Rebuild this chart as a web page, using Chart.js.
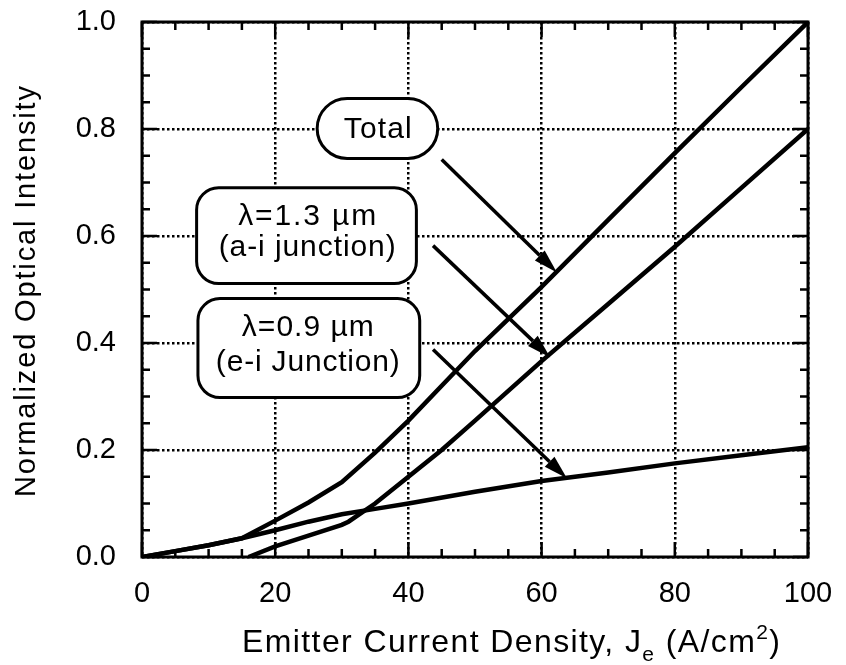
<!DOCTYPE html>
<html lang="en">
<head>
<meta charset="UTF-8">
<title>Normalized Optical Intensity</title>
<script src="https://cdn.jsdelivr.net/npm/chart.js"></script>
<style>
  html, body { margin: 0; padding: 0; background: #fff; }
  #wrap { width: 846px; height: 665px; }
</style>
</head>
<body>
<div id="wrap"><canvas id="chart"></canvas></div>
<script>
// values (J in A/cm2, normalized intensity)
const totalJ = [0, 5, 10, 15, 20, 25, 30, 35, 40, 45, 50, 60, 70, 80, 90, 100];
const totalI = [0, 0.011, 0.022, 0.035, 0.068, 0.102, 0.14, 0.195, 0.255, 0.32, 0.385, 0.505, 0.63, 0.755, 0.878, 1.0];

const aiJ = [16, 20, 25, 30, 31, 35, 40, 45, 50, 60, 70, 80, 90, 100];
const aiI = [0, 0.02, 0.04, 0.06, 0.066, 0.1, 0.15, 0.2, 0.255, 0.366, 0.473, 0.58, 0.69, 0.8];

const eiJ = [0, 5, 10, 15, 20, 25, 30, 35, 40, 50, 60, 70, 80, 90, 100];
const eiI = [0, 0.011, 0.022, 0.035, 0.05, 0.066, 0.08, 0.09, 0.1, 0.122, 0.142, 0.158, 0.175, 0.19, 0.205];

const xTicks = [0, 20, 40, 60, 80, 100];
const yTicks = [0.0, 0.2, 0.4, 0.6, 0.8, 1.0];

const pts = (xs, ys) => xs.map((x, i) => ({ x: x, y: ys[i] }));

// callout boxes and arrows, in data units; each text line: [text, baseline y, width px]
const callouts = [
  { box: [26.3, 0.857, 44.4, 0.745], r: 30, tx: 35.4,
    lines: [['Total', 0.783, 68]],
    arrow: [45.0, 0.743, 62.3, 0.532] },
  { box: [8.2, 0.69, 41.2, 0.511], r: 22, tx: 24.8,
    lines: [['\u03bb=1.3 \u00b5m', 0.620, 138], ['(a-i junction)', 0.562, 177]],
    arrow: [43.7, 0.582, 61.3, 0.373] },
  { box: [8.4, 0.483, 41.7, 0.298], r: 22, tx: 24.9,
    lines: [['\u03bb=0.9 \u00b5m', 0.414, 132], ['(e-i Junction)', 0.347, 184]],
    arrow: [43.7, 0.388, 63.8, 0.147] }
];

const FONT = '"Liberation Sans", Arial, Helvetica, sans-serif';

function roundRect(ctx, x0, y0, x1, y1, r) {
  ctx.beginPath();
  ctx.moveTo(x0 + r, y0);
  ctx.arcTo(x1, y0, x1, y1, r);
  ctx.arcTo(x1, y1, x0, y1, r);
  ctx.arcTo(x0, y1, x0, y0, r);
  ctx.arcTo(x0, y0, x1, y0, r);
  ctx.closePath();
}

function arrow(ctx, x0, y0, x1, y1) {
  const a = Math.atan2(y1 - y0, x1 - x0);
  const len = 24, half = 7;
  const bx = x1 - len * Math.cos(a), by = y1 - len * Math.sin(a);
  ctx.beginPath();
  ctx.moveTo(x0, y0);
  ctx.lineTo(bx, by);
  ctx.stroke();
  ctx.beginPath();
  ctx.moveTo(x1, y1);
  ctx.lineTo(bx + half * Math.sin(a), by - half * Math.cos(a));
  ctx.lineTo(bx - half * Math.sin(a), by + half * Math.cos(a));
  ctx.closePath();
  ctx.fill();
}

// text runs [text, size, dy]; spread over a given width with letter spacing
function spreadText(ctx, runs, x, y, width) {
  let n = 0, w = 0;
  ctx.letterSpacing = '0px';
  runs.forEach(r => { ctx.font = r[1] + 'px ' + FONT; w += ctx.measureText(r[0]).width; n += r[0].length; });
  const ls = 'letterSpacing' in ctx ? Math.max(0, (width - w) / Math.max(1, n - 1)) : 0;
  ctx.letterSpacing = ls + 'px';
  ctx.textAlign = 'left';
  ctx.textBaseline = 'alphabetic';
  let cx = x;
  runs.forEach(r => {
    ctx.font = r[1] + 'px ' + FONT;
    ctx.fillText(r[0], cx, y + r[2]);
    cx += ctx.measureText(r[0]).width;
  });
  ctx.letterSpacing = '0px';
}

const extras = {
  id: 'extras',
  afterDatasetsDraw(chart) {
    const ctx = chart.ctx;
    const xs = chart.scales.x, ys = chart.scales.y;
    const a = chart.chartArea;
    ctx.save();
    ctx.strokeStyle = '#000';
    ctx.fillStyle = '#000';

    // callouts
    callouts.forEach(c => {
      const x0 = xs.getPixelForValue(c.box[0]), y0 = ys.getPixelForValue(c.box[1]);
      const x1 = xs.getPixelForValue(c.box[2]), y1 = ys.getPixelForValue(c.box[3]);
      roundRect(ctx, x0, y0, x1, y1, c.r);
      ctx.fillStyle = '#fff';
      ctx.fill();
      ctx.lineWidth = 3;
      ctx.stroke();
      ctx.fillStyle = '#000';
      const cx = xs.getPixelForValue(c.tx);
      c.lines.forEach(l => spreadText(ctx, [[l[0], 30, 0]], cx - l[2] / 2, ys.getPixelForValue(l[1]), l[2]));
      ctx.lineWidth = 3.5;
      arrow(ctx, xs.getPixelForValue(c.arrow[0]), ys.getPixelForValue(c.arrow[1]),
        xs.getPixelForValue(c.arrow[2]), ys.getPixelForValue(c.arrow[3]));
    });

    // frame
    ctx.lineWidth = 3;
    ctx.strokeRect(a.left, a.top, a.right - a.left, a.bottom - a.top);

    // inward ticks on all four sides
    ctx.lineWidth = 2.5;
    ctx.beginPath();
    for (let i = 0; i <= 20; i++) {
      const x = xs.getPixelForValue(i * 5);
      const len = i % 4 === 0 ? 15 : 8;
      ctx.moveTo(x, a.bottom); ctx.lineTo(x, a.bottom - len);
      ctx.moveTo(x, a.top); ctx.lineTo(x, a.top + len);
    }
    for (let i = 0; i <= 20; i++) {
      const y = ys.getPixelForValue(i * 0.05);
      const len = i % 4 === 0 ? 15 : 8;
      ctx.moveTo(a.left, y); ctx.lineTo(a.left + len, y);
      ctx.moveTo(a.right, y); ctx.lineTo(a.right - len, y);
    }
    ctx.stroke();

    // axis titles
    spreadText(ctx, [['Emitter Current Density, J', 32, 0], ['e', 21, 9], [' (A/cm', 32, 0], ['2', 21, -13], [')', 32, 0]],
      242, 652, 538);
    ctx.translate(35, 497);
    ctx.rotate(-Math.PI / 2);
    spreadText(ctx, [['Normalized Optical Intensity', 29, 0]], 0, 0, 411);
    ctx.restore();
  }
};

const line = (label, data) => ({
  label: label,
  data: data,
  borderColor: '#000',
  borderWidth: 4.5,
  pointRadius: 0,
  tension: 0,
  fill: false
});

const noPad = s => { s.paddingLeft = 0; s.paddingRight = 0; s.paddingTop = 0; s.paddingBottom = 0; };

new Chart(document.getElementById('chart'), {
  type: 'line',
  data: {
    datasets: [
      line('Total', pts(totalJ, totalI)),
      line('\u03bb=1.3 \u00b5m (a-i junction)', pts(aiJ, aiI)),
      line('\u03bb=0.9 \u00b5m (e-i Junction)', pts(eiJ, eiI))
    ]
  },
  options: {
    responsive: true,
    maintainAspectRatio: false,
    animation: false,
    layout: { padding: { top: 22, right: 38, left: 0, bottom: 0 } },
    plugins: { legend: { display: false }, tooltip: { enabled: false } },
    scales: {
      x: {
        type: 'linear',
        min: 0, max: 100,
        afterFit: s => { s.height = 108; noPad(s); },
        afterBuildTicks: s => { s.ticks = xTicks.map(v => ({ value: v })); },
        ticks: { color: '#000', font: { family: FONT, size: 29 }, padding: 20, maxRotation: 0 },
        grid: { color: '#000', lineWidth: 2.5, drawTicks: false },
        border: { display: false, dash: [2.5, 2.5] }
      },
      y: {
        min: 0, max: 1,
        afterFit: s => { s.width = 142; noPad(s); },
        afterBuildTicks: s => { s.ticks = yTicks.map(v => ({ value: v })); },
        ticks: { color: '#000', font: { family: FONT, size: 29 }, padding: 26, callback: v => v.toFixed(1) },
        grid: { color: '#000', lineWidth: 2.5, drawTicks: false },
        border: { display: false, dash: [2.5, 2.5] }
      }
    }
  },
  plugins: [extras]
});
</script>
</body>
</html>
